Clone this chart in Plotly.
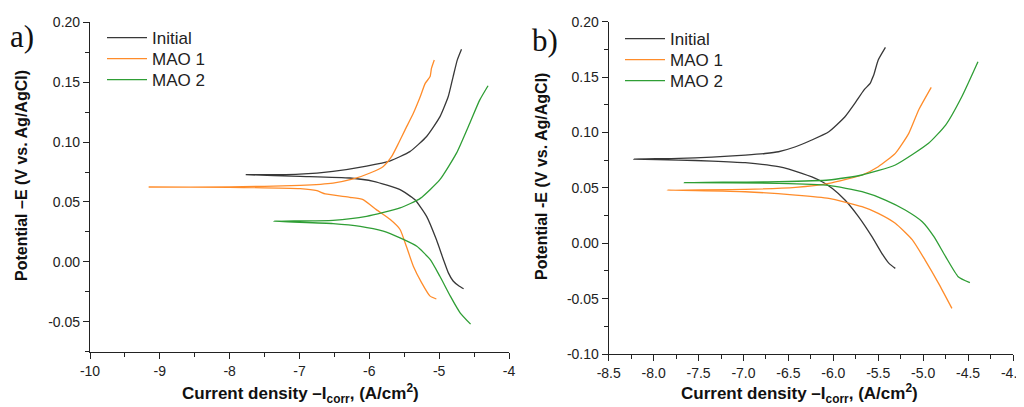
import plotly.graph_objects as go

# ---------------- data: panel a ----------------
a_init_up_x = [-7.77, -7.3, -7.0, -6.52, -6.04, -5.70, -5.42, -5.18, -4.99, -4.87, -4.80, -4.74, -4.68]
a_init_up_y = [0.0728, 0.0728, 0.0732, 0.0756, 0.0800, 0.0844, 0.0920, 0.1047, 0.1210, 0.1380, 0.1547, 0.1686, 0.1775]
a_init_lo_x = [-7.77, -6.99, -6.28, -5.94, -5.56, -5.35, -5.18, -5.04, -4.94, -4.87, -4.80, -4.72, -4.65]
a_init_lo_y = [0.0728, 0.0714, 0.0700, 0.0672, 0.0603, 0.0520, 0.0380, 0.0186, 0.0020, -0.0090, -0.0160, -0.0200, -0.0225]

a_mao1_up_x = [-9.16, -8.0, -6.99, -6.52, -6.23, -5.99, -5.80, -5.68, -5.58, -5.49, -5.37, -5.27, -5.20, -5.13, -5.11, -5.07]
a_mao1_up_y = [0.0625, 0.0625, 0.0639, 0.0658, 0.0692, 0.0742, 0.0797, 0.0880, 0.0992, 0.1100, 0.1240, 0.1380, 0.1490, 0.1547, 0.1617, 0.1686]
a_mao1_lo_x = [-9.16, -8.0, -6.99, -6.75, -6.63, -6.28, -6.09, -5.90, -5.70, -5.56, -5.47, -5.37, -5.25, -5.13, -5.04]
a_mao1_lo_y = [0.0625, 0.0622, 0.0611, 0.0594, 0.0567, 0.0539, 0.0520, 0.0436, 0.0353, 0.0270, 0.0130, -0.0036, -0.0175, -0.0286, -0.0310]

a_mao2_up_x = [-7.37, -6.52, -6.04, -5.56, -5.27, -4.99, -4.75, -4.56, -4.42, -4.30]
a_mao2_up_y = [0.0339, 0.0347, 0.0380, 0.0450, 0.0530, 0.0686, 0.0910, 0.1160, 0.1350, 0.1470]
a_mao2_lo_x = [-7.37, -6.52, -6.13, -5.80, -5.56, -5.32, -5.13, -4.99, -4.84, -4.70, -4.55]
a_mao2_lo_y = [0.0339, 0.0320, 0.0297, 0.0256, 0.0200, 0.0130, 0.0020, -0.0120, -0.0286, -0.0425, -0.0520]

# ---------------- data: panel b ----------------
b_init_up_x = [-8.22, -7.72, -7.35, -6.98, -6.76, -6.61, -6.42, -6.24, -6.05, -5.87, -5.76, -5.66, -5.59, -5.57, -5.55, -5.50, -5.42]
b_init_up_y = [0.0760, 0.0766, 0.0778, 0.0796, 0.0810, 0.0826, 0.0871, 0.0932, 0.1007, 0.1142, 0.1263, 0.1383, 0.1443, 0.1480, 0.1519, 0.1654, 0.1768]
b_init_lo_x = [-8.22, -7.72, -7.35, -6.98, -6.61, -6.35, -6.16, -6.01, -5.87, -5.72, -5.57, -5.46, -5.38, -5.31]
b_init_lo_y = [0.0760, 0.0751, 0.0742, 0.0727, 0.0691, 0.0631, 0.0571, 0.0495, 0.0390, 0.0240, 0.0059, -0.0091, -0.0182, -0.0227]

b_mao1_up_x = [-7.85, -6.98, -6.42, -6.05, -5.68, -5.50, -5.31, -5.16, -5.05, -4.91]
b_mao1_up_y = [0.0480, 0.0486, 0.0504, 0.0540, 0.0616, 0.0691, 0.0811, 0.0992, 0.1203, 0.1407]
b_mao1_lo_x = [-7.85, -6.98, -6.42, -6.05, -5.68, -5.50, -5.31, -5.12, -4.98, -4.83, -4.68]
b_mao1_lo_y = [0.0480, 0.0465, 0.0435, 0.0405, 0.0330, 0.0270, 0.0180, 0.0030, -0.0150, -0.0360, -0.0588]

b_mao2_up_x = [-7.66, -6.61, -6.05, -5.68, -5.31, -4.94, -4.75, -4.57, -4.39]
b_mao2_up_y = [0.0547, 0.0556, 0.0571, 0.0616, 0.0706, 0.0902, 0.1067, 0.1323, 0.1639]
b_mao2_lo_x = [-7.66, -6.61, -6.05, -5.68, -5.42, -5.20, -5.01, -4.88, -4.75, -4.61, -4.48]
b_mao2_lo_y = [0.0547, 0.0541, 0.0522, 0.0465, 0.0390, 0.0300, 0.0194, 0.0059, -0.0121, -0.0302, -0.0356]

# ---------------- tick labels ----------------
a_xticks = [-10, -9, -8, -7, -6, -5, -4]
a_xticktext = ["-10", "-9", "-8", "-7", "-6", "-5", "-4"]
a_yticks = [-0.05, 0.0, 0.05, 0.10, 0.15, 0.20]
a_yticktext = ["-0.05", "0.00", "0.05", "0.10", "0.15", "0.20"]
b_xticks = [-8.5, -8.0, -7.5, -7.0, -6.5, -6.0, -5.5, -5.0, -4.5, -4.0]
b_xticktext = ["-8.5", "-8.0", "-7.5", "-7.0", "-6.5", "-6.0", "-5.5", "-5.0", "-4.5", "-4.0"]
b_yticks = [-0.10, -0.05, 0.0, 0.05, 0.10, 0.15, 0.20]
b_yticktext = ["-0.10", "-0.05", "0.00", "0.05", "0.10", "0.15", "0.20"]

series_names = ["Initial", "MAO 1", "MAO 2"]
colors = ["#383838", "#ff8c2a", "#2f9e35"]

panel_a = [(a_init_up_x, a_init_up_y, a_init_lo_x, a_init_lo_y),
           (a_mao1_up_x, a_mao1_up_y, a_mao1_lo_x, a_mao1_lo_y),
           (a_mao2_up_x, a_mao2_up_y, a_mao2_lo_x, a_mao2_lo_y)]
panel_b = [(b_init_up_x, b_init_up_y, b_init_lo_x, b_init_lo_y),
           (b_mao1_up_x, b_mao1_up_y, b_mao1_lo_x, b_mao1_lo_y),
           (b_mao2_up_x, b_mao2_up_y, b_mao2_lo_x, b_mao2_lo_y)]

# The page body has an 8px margin, so the figure is 8px smaller and offset by 8px.
OFF = 8
W, H = 1024 - OFF, 407 - OFF

def px(X):  # screen x -> paper fraction
    return (X - OFF) / W

def py(Y):  # screen y -> paper fraction
    return 1 - (Y - OFF) / H

fig = go.Figure()

legend_names = [["legend", "legend2", "legend3"], ["legend4", "legend5", "legend6"]]

def add_panel(panel, xa, ya, legs):
    for (ux, uy, lx, ly), name, col, leg in zip(panel, series_names, colors, legs):
        xs = list(reversed(ux)) + list(lx[1:])
        ys = list(reversed(uy)) + list(ly[1:])
        fig.add_trace(go.Scatter(x=xs, y=ys, mode="lines", name=name,
                                 line=dict(color=col, width=1.3, shape="spline", smoothing=0.5),
                                 xaxis=xa, yaxis=ya, legend=leg))

add_panel(panel_a, "x", "y", legend_names[0])
add_panel(panel_b, "x2", "y2", legend_names[1])

font_main = "Liberation Sans, Arial, sans-serif"
axis_common = dict(showline=True, linecolor="#222", linewidth=1.2, ticks="outside",
                   ticklen=6, tickwidth=1.2, tickcolor="#222", showgrid=False, zeroline=False,
                   tickfont=dict(family=font_main, size=14, color="#222"), automargin=False,
                   ticklabeloverflow="allow")
minor_common = dict(ticks="outside", ticklen=4, tickwidth=1, tickcolor="#222", showgrid=False)

layout = dict(
    width=W, height=H, margin=dict(l=0, r=0, t=0, b=0),
    paper_bgcolor="white", plot_bgcolor="white", showlegend=True,
    xaxis=dict(domain=[px(90), px(509)], range=[-10, -4], tickvals=a_xticks, ticktext=a_xticktext, anchor="y",
               minor=dict(dtick=0.5, **minor_common), **axis_common),
    yaxis=dict(domain=[py(351.7), py(22.3)], range=[-0.075, 0.20], tickvals=a_yticks, ticktext=a_yticktext, anchor="x",
               minor=dict(dtick=0.025, **minor_common), **axis_common),
    xaxis2=dict(domain=[px(608.7), px(1013)], range=[-8.5, -4.0], tickvals=b_xticks, ticktext=b_xticktext, anchor="y2",
                minor=dict(dtick=0.25, **minor_common), **axis_common),
    yaxis2=dict(domain=[py(354), py(21.7)], range=[-0.10, 0.20], tickvals=b_yticks, ticktext=b_yticktext, anchor="x2",
                minor=dict(dtick=0.025, **minor_common), **axis_common),
)

legend_rows = [(102, [38, 59, 80]), (620, [39, 60, 81])]
for (lx, rows), names in zip(legend_rows, legend_names):
    for ry, nm in zip(rows, names):
        layout[nm] = dict(x=px(lx), y=py(ry), xanchor="left", yanchor="middle", bgcolor="rgba(0,0,0,0)",
                          font=dict(family=font_main, size=17, color="#222"), itemwidth=40, tracegroupgap=0)

fig.update_layout(**layout)

ytitle_font = dict(family=font_main, size=16, color="#111")
xtitle_font = dict(family=font_main, size=17, color="#111")
annots = [
    dict(text="a)", x=px(22), y=py(36), font=dict(family="Liberation Serif, serif", size=31, color="#111")),
    dict(text="b)", x=px(545), y=py(40), font=dict(family="Liberation Serif, serif", size=31, color="#111")),
    dict(text="<b>Potential –E (V vs. Ag/AgCl)</b>", x=px(21), y=py(176), textangle=-90, font=ytitle_font),
    dict(text="<b>Potential -E (V vs. Ag/AgCl)</b>", x=px(542), y=py(177), textangle=-90, font=ytitle_font),
    dict(text="<b>Current density –I<sub>corr</sub>, (A/cm<sup>2</sup>)</b>", x=px(300), y=py(393), font=xtitle_font),
    dict(text="<b>Current density –I<sub>corr</sub>, (A/cm<sup>2</sup>)</b>", x=px(799), y=py(393), font=xtitle_font),
]
for a in annots:
    fig.add_annotation(xref="paper", yref="paper", xanchor="center", yanchor="middle", showarrow=False, **a)

fig.write_html("out.html")
